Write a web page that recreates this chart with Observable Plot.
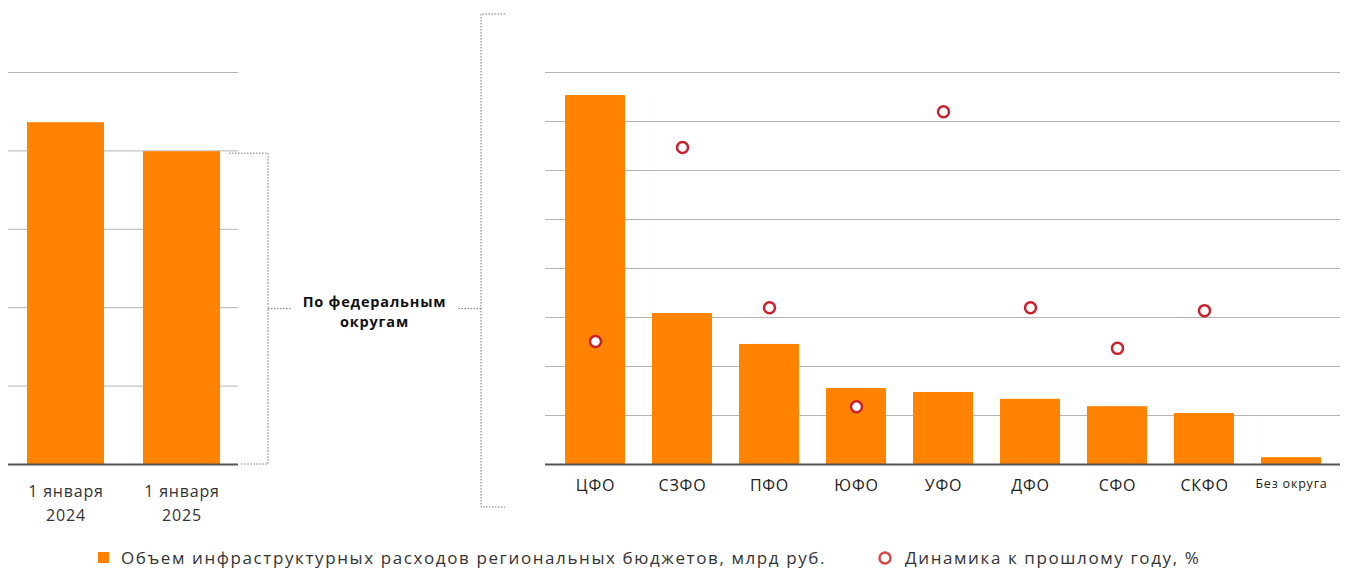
<!DOCTYPE html>
<html>
<head>
<meta charset="utf-8">
<script src="https://cdn.jsdelivr.net/npm/d3@7"></script>
<script src="https://cdn.jsdelivr.net/npm/@observablehq/plot@0.6"></script>
<style>
  body { margin: 0; background: #fff; font-family: "Open Sans", sans-serif; }
  #wrap { position: relative; width: 1349px; height: 540px; }
  #wrap > svg { position: absolute; top: 0; }
  #legend { position: relative; height: 29px; width: 1349px; font-size: 17px; color: #333; letter-spacing: 1.6px; }
  #legend .item { position: absolute; top: 6px; display: flex; align-items: center; }
</style>
</head>
<body>
<div id="wrap"></div>
<div id="legend">
  <div class="item" style="left:98px"><span style="display:inline-block;width:11px;height:11px;background:#ff8200;margin-right:12px"></span><span>Объем инфраструктурных расходов региональных бюджетов, млрд руб.</span></div>
  <div class="item" style="left:877px"><svg width="16" height="16" style="margin-right:12px"><circle cx="8" cy="8" r="5.5" fill="#fff" stroke="#d9474b" stroke-width="2.5"/></svg><span>Динамика к прошлому году, %</span></div>
</div>
<script>
// ---- data ----
const periods = ["1 января\n2024", "1 января\n2025"];
const periodValues = [2180, 1995];
const leftTicks = [0, 500, 1000, 1500, 2000, 2500];

const districts = ["ЦФО", "СЗФО", "ПФО", "ЮФО", "УФО", "ДФО", "СФО", "СКФО", "Без округа"];
const districtValues = [753, 308, 245, 155, 147, 133, 118, 104, 14];
const dynamicsDistricts = ["ЦФО", "СЗФО", "ПФО", "ЮФО", "УФО", "ДФО", "СФО", "СКФО"];
const dynamicsValues = [251, 647, 320, 118, 720, 320, 237, 314];
const rightTicks = [0, 100, 200, 300, 400, 500, 600, 700, 800];

const bracketLabel = "По федеральным\nокругам";

const ORANGE = "#ff8200";
const FONT = "Open Sans, sans-serif";

const leftData = periods.map((p, i) => ({p, v: periodValues[i]}));
const rightData = districts.map((d, i) => ({d, v: districtValues[i]}));
const dynData = dynamicsDistricts.map((d, i) => ({d, v: dynamicsValues[i]}));

const H = 540;
const left = Plot.plot({
  width: 250, height: H,
  marginLeft: 8, marginRight: 12, marginTop: 72, marginBottom: 76,
  style: {fontFamily: FONT, background: "transparent", letterSpacing: "0.8px"},
  x: {domain: periods, paddingInner: 0.34, paddingOuter: 0.155, label: null},
  y: {domain: [0, 2500], label: null, axis: null},
  marks: [
    Plot.ruleY(leftTicks.slice(1), {stroke: "#b3b3b3", strokeWidth: 1}),
    Plot.barY(leftData, {x: "p", y: "v", fill: ORANGE}),
    Plot.ruleY([0], {stroke: "#555", strokeWidth: 2}),
    Plot.axisX({tickSize: 0, tickPadding: 15, fontSize: 16, lineHeight: 1.5, fill: "#333", label: null}),
  ]
});
left.style.left = "0px";

const right = Plot.plot({
  width: 889, height: H,
  marginLeft: 85, marginRight: 9, marginTop: 72, marginBottom: 76,
  style: {fontFamily: FONT, background: "transparent", letterSpacing: "0.8px"},
  x: {domain: districts, paddingInner: 0.314, paddingOuter: 0.22, label: null},
  y: {domain: [0, 800], label: null, axis: null},
  marks: [
    Plot.ruleY(rightTicks.slice(1), {stroke: "#b3b3b3", strokeWidth: 1}),
    Plot.barY(rightData, {x: "d", y: "v", fill: ORANGE}),
    Plot.ruleY([0], {stroke: "#555", strokeWidth: 2}),
    Plot.dot(dynData, {x: "d", y: "v", r: 5.5, fill: "#fff", stroke: "#c8202f", strokeWidth: 2.5}),
    Plot.axisX({tickSize: 0, tickPadding: 15, fontSize: d => d === "Без округа" ? 12.5 : 16, fill: "#222", label: null}),
  ]
});
right.style.left = "460px";

const wrap = document.getElementById("wrap");
wrap.appendChild(left);
wrap.appendChild(right);

// ---- bracket overlay (positions derived from the plots' scales) ----
const ly = left.scale("y"), lx = left.scale("x");
const OFF = 460;
const yTop = ly.apply(periodValues[1]) + 2;
const yBase = ly.apply(0);
const yMid = (yTop + yBase) / 2;
const lxEnd = lx.range[1];
const bx1 = lxEnd + 30;
const bx2 = OFF + 21;
const rTop = 14, rBot = H - 33;

const ov = d3.create("svg").attr("width", 1349).attr("height", H)
  .style("position", "absolute").style("left", "0px").style("top", "0px").style("pointer-events", "none");
const dash = g => g.attr("stroke", "#777").attr("stroke-width", 1).attr("stroke-dasharray", "1.5,1.5").attr("fill", "none");
ov.append("path").call(dash).attr("d", `M${lxEnd - 9},${yTop}H${bx1}V${yBase}H${lxEnd + 2}`);
ov.append("path").call(dash).attr("d", `M${bx1},${yMid}H${bx1 + 24}`);
ov.append("path").call(dash).attr("d", `M${bx2 + 24},${rTop}H${bx2}V${rBot}H${bx2 + 24}`);
ov.append("path").call(dash).attr("d", `M${bx2},${yMid}H${bx2 - 24}`);
const t = ov.append("text").attr("x", (bx1 + bx2) / 2).attr("y", yMid - 2)
  .attr("text-anchor", "middle").attr("font-family", FONT).attr("font-weight", "bold")
  .attr("font-size", 14.5).attr("letter-spacing", "0.8px").attr("fill", "#111");
bracketLabel.split("\n").forEach((line, i) => t.append("tspan").attr("x", (bx1 + bx2) / 2).attr("dy", i ? 20 : 0).text(line));
wrap.appendChild(ov.node());
</script>
</body>
</html>
